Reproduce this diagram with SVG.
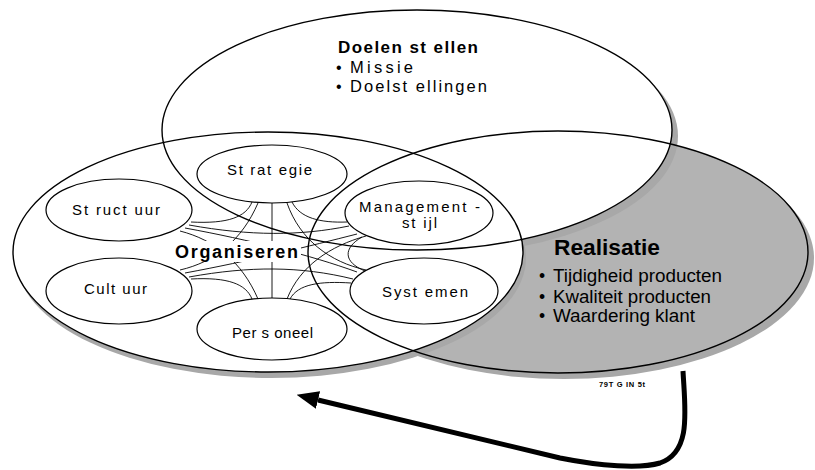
<svg xmlns="http://www.w3.org/2000/svg" width="815" height="470" viewBox="0 0 815 470">
<style>
.shadow{fill:#a8a8a8;stroke:none}
.outline{fill:none;stroke:#000;stroke-width:1.4}
.node{fill:#fff;stroke:#000;stroke-width:1.2}
.conn{fill:none;stroke:#000;stroke-width:0.9}
.lbl{font-family:"Liberation Sans",Arial,sans-serif;font-size:15px;fill:#000}
.bold{font-family:"Liberation Sans",Arial,sans-serif;font-weight:bold;fill:#000}
.txt{font-family:"Liberation Sans",Arial,sans-serif;fill:#000}
</style>
<defs>
<marker id="ah" viewBox="0 0 22 18" refX="0" refY="9" markerWidth="22" markerHeight="18" markerUnits="userSpaceOnUse" orient="auto">
<path d="M0,0 L22,9 L0,18 z" fill="#000"/>
</marker>
</defs>

<g id="backgrounds">
<ellipse class="shadow" cx="564" cy="258" rx="250" ry="121"/>
<ellipse cx="558" cy="252" rx="250" ry="121" fill="#b3b3b3"/>
<ellipse class="shadow" cx="423" cy="136" rx="255" ry="120"/>
<ellipse class="shadow" cx="271" cy="258" rx="255" ry="120"/>
<ellipse cx="417" cy="130" rx="255" ry="120" fill="#fff"/>
<ellipse cx="268" cy="252" rx="255" ry="120" fill="#fff"/>
</g>

<g id="realisatie">
<ellipse class="outline" cx="558" cy="252" rx="250" ry="121"/>
<text class="bold" x="554" y="255" font-size="22" textLength="106" lengthAdjust="spacingAndGlyphs">Realisatie</text>
<text class="txt" x="539" y="282" font-size="17.5">•</text>
<text class="txt" x="553" y="282" font-size="17.5" textLength="169" lengthAdjust="spacingAndGlyphs">Tijdigheid producten</text>
<text class="txt" x="539" y="302.5" font-size="17.5">•</text>
<text class="txt" x="553" y="302.5" font-size="17.5" textLength="158" lengthAdjust="spacingAndGlyphs">Kwaliteit producten</text>
<text class="txt" x="539" y="322" font-size="17.5">•</text>
<text class="txt" x="553" y="322" font-size="17.5" textLength="142" lengthAdjust="spacingAndGlyphs">Waardering klant</text>
</g>

<g id="doelen">
<ellipse class="outline" cx="417" cy="130" rx="255" ry="120"/>
<text class="bold" x="338" y="53" font-size="17" textLength="140" lengthAdjust="spacing">Doelen st ellen</text>
<text class="txt" x="336" y="73" font-size="16">•</text>
<text class="txt" x="350" y="73" font-size="16.5" textLength="63" lengthAdjust="spacing">Missie</text>
<text class="txt" x="336" y="92" font-size="16">•</text>
<text class="txt" x="350" y="92" font-size="16.5" textLength="137" lengthAdjust="spacing">Doelst ellingen</text>
</g>

<g id="organiseren">
<ellipse class="outline" cx="268" cy="252" rx="255" ry="120"/>
</g>

<g id="connectors">
<path class="conn" d="M272,203 L272,298"/>
<path class="conn" d="M191,222 C228,224 246,217 252,202"/>
<path class="conn" d="M189,225 C250,236 300,236 349,226"/>
<path class="conn" d="M185,228 C250,240 310,255 357,272"/>
<path class="conn" d="M180,231 C215,240 242,262 258,299"/>
<path class="conn" d="M191,279 C228,277 246,284 252,299"/>
<path class="conn" d="M189,277 C250,266 300,266 353,279"/>
<path class="conn" d="M185,273 C250,261 310,246 357,234"/>
<path class="conn" d="M180,270 C215,262 242,240 258,203"/>
<path class="conn" d="M292,202 C300,218 320,223 347,222"/>
<path class="conn" d="M362,237 C343,248 343,262 365,271"/>
<path class="conn" d="M366,236 C330,246 300,266 287,299"/>
<path class="conn" d="M290,299 C298,284 320,281 351,283"/>
<path class="conn" d="M366,270 C330,262 300,240 287,203"/>
<path d="M683,371 C685,410 692,452 660,463 C640,469 600,466 560,458 L318,400" fill="none" stroke="#000" stroke-width="5" marker-end="url(#ah)"/>
</g>

<rect x="173" y="241" width="128" height="21" fill="#fff"/>
<text class="bold" x="175" y="258" font-size="18" textLength="123" lengthAdjust="spacing">Organiseren</text>

<g id="strategie">
<ellipse class="node" cx="272" cy="174" rx="75" ry="29"/>
<text class="lbl" x="227" y="175" textLength="85" lengthAdjust="spacing">St rat egie</text>
</g>
<g id="structuur">
<ellipse class="node" cx="119" cy="210" rx="73" ry="31"/>
<text class="lbl" x="72" y="215" textLength="88" lengthAdjust="spacing">St ruct uur</text>
</g>
<g id="cultuur">
<ellipse class="node" cx="119" cy="291" rx="73" ry="33"/>
<text class="lbl" x="84" y="294" textLength="63" lengthAdjust="spacing">Cult uur</text>
</g>
<g id="personeel">
<ellipse class="node" cx="272" cy="329" rx="75" ry="31"/>
<text class="lbl" x="232" y="338" textLength="81" lengthAdjust="spacing">Per s oneel</text>
</g>
<g id="management">
<ellipse class="node" cx="419" cy="213" rx="74" ry="32"/>
<text class="lbl" x="359" y="212" font-size="14" textLength="121" lengthAdjust="spacing">Management -</text>
<text class="lbl" x="402" y="228" font-size="14" textLength="35" lengthAdjust="spacing">st ijl</text>
</g>
<g id="systemen">
<ellipse class="node" cx="424" cy="291" rx="74" ry="33"/>
<text class="lbl" x="382" y="297" textLength="86" lengthAdjust="spacing">Syst emen</text>
</g>

<text class="bold" x="599" y="387" font-size="7.5" textLength="46" lengthAdjust="spacing">79T G IN 5t</text>
</svg>
